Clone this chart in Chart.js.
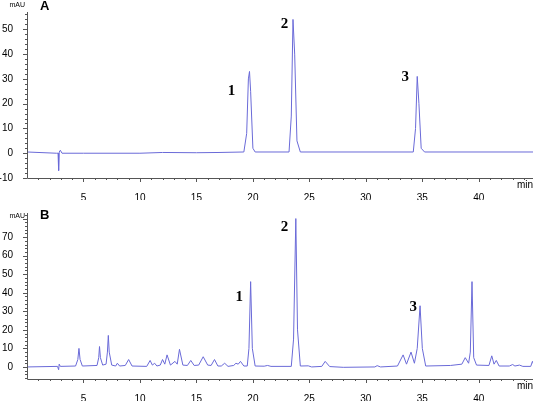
<!DOCTYPE html>
<html>
<head>
<meta charset="utf-8">
<script src="https://cdn.jsdelivr.net/npm/chart.js@4"></script>
<style>
  body { margin: 0; background: #fff; }
  .panel { position: relative; width: 550px; height: 200px; }
  .panel + .panel { height: 201px; }
</style>
</head>
<body>
<div class="panel"><canvas id="chartA"></canvas></div>
<div class="panel"><canvas id="chartB"></canvas></div>
<script>
// Trace A (standards) - retention time (min) / absorbance (mAU)
const timeA = [0, 2.6, 2.75, 2.8, 2.85, 2.95, 3.1, 5, 10, 12, 15, 17, 19.2, 19.45, 19.6, 19.7, 19.8, 20, 20.2,
  23.2, 23.4, 23.55, 23.7, 23.9, 24.2, 34.2, 34.4, 34.55, 34.7, 34.9, 35.2, 44.8];
const valA = [0.5, 0, 0, -7, 0.5, 1.2, 0, 0, 0, 0.3, 0.2, 0.3, 0.5, 8, 30, 33, 25, 2, 0.5,
  0.5, 15, 54, 40, 5, 0.5, 0.5, 10, 31, 20, 2, 0.5, 0.5];

// Trace B (sample)
const timeB = [0, 2.7, 2.8, 2.85, 2.95, 4.3, 4.5, 4.6, 4.7, 4.9, 6.2, 6.35, 6.42, 6.5, 6.7, 7.0, 7.12, 7.2, 7.28, 7.5,
  7.85, 8.0, 8.2, 8.7, 9.0, 9.3, 10.6, 10.9, 11.1, 11.3, 11.5, 11.8, 12.0, 12.2, 12.4, 12.7, 13.1, 13.3, 13.5, 13.8,
  14.2, 14.5, 14.8, 15.2, 15.6, 16, 16.3, 16.6, 16.9, 17.2, 17.5, 17.8, 18.3, 18.5, 18.7, 18.9, 19.2, 19.5, 19.65, 19.8,
  19.95, 20.2, 21.0, 21.3, 21.6, 23.4, 23.6, 23.8, 23.95, 24.2, 24.9, 25.2, 26.1, 26.4, 26.8, 28, 30.8, 31.0, 31.3, 32.8,
  33.3, 33.6, 34.0, 34.3, 34.55, 34.8, 35.0, 35.3, 37.5, 38.5, 38.8, 39.1, 39.25, 39.4, 39.55, 39.8, 40.9, 41.15, 41.35, 41.55,
  41.8, 42.7, 43.0, 43.2, 43.6, 43.9, 44.6, 44.75, 44.85];
const valB = [0, 0.3, -1.5, 1.5, 0.3, 0.5, 4, 10, 4, 0.5, 0.8, 5, 11, 5, 1, 1.5, 8, 17, 8, 1,
  0.5, 2, 0.5, 0.8, 4, 0.5, 0.3, 3.5, 1, 2, 0.5, 1, 4, 1.5, 6.5, 1, 3, 1.5, 9.5, 1,
  0.8, 3.5, 0.8, 1, 5.5, 1, 0.8, 4, 0.5, 0.5, 2, 0.3, 0.8, 2, 1.5, 3, 0.5, 0.5, 10, 46,
  10, 0.5, 0.4, 0.8, 0.3, 0.3, 15, 80, 20, 0.5, 0.6, 0, 0.3, 3, 0.2, -0.2, 0, 0.7, 0, 0.5,
  6.5, 1.5, 8, 2, 10, 33, 10, 0.5, 0.8, 1.5, 5, 2, 8, 46, 5, 1, 0.8, 6, 1.5, 3.5,
  0.5, 0.5, 1.3, 0.5, 1, 0.3, 0.3, 3, 1.5];

// Peak labels
const peakNames = ['1', '2', '3'];
const labelTimeA = [18.1, 22.8, 33.5];
const labelValA = [25, 52, 30.6];
const labelTimeB = [18.8, 22.8, 34.2];
const labelValB = [37.5, 75.5, 32];

// Axis ticks
const timeTicks = [5, 10, 15, 20, 25, 30, 35, 40];
const ticksA = [-10, 0, 10, 20, 30, 40, 50];
const ticksB = [0, 10, 20, 30, 40, 50, 60, 70];

const lineColor = '#6a6ad8';

const decor = {
  id: 'decor',
  afterDraw(chart, args, o) {
    const ctx = chart.ctx, x = chart.scales.x, y = chart.scales.y, a = chart.chartArea;
    ctx.save();
    ctx.strokeStyle = '#555';
    ctx.lineWidth = 1;
    ctx.beginPath();
    ctx.moveTo(a.left + 0.5, a.top); ctx.lineTo(a.left + 0.5, a.bottom + 0.5);
    ctx.lineTo(a.right, a.bottom + 0.5);
    // minor ticks
    for (let t = 1; t < x.max; t++) {
      const px = Math.round(x.getPixelForValue(t)) + 0.5;
      const len = t % 5 === 0 ? 4 : 2;
      ctx.moveTo(px, a.bottom); ctx.lineTo(px, a.bottom + len);
    }
    for (let v = Math.ceil(y.min / 2) * 2; v <= y.max; v += 2) {
      const py = Math.round(y.getPixelForValue(v)) + 0.5;
      const len = v % 10 === 0 ? 4 : 2;
      ctx.moveTo(a.left, py); ctx.lineTo(a.left - len, py);
    }
    ctx.stroke();
    ctx.fillStyle = '#000';
    ctx.font = '7px Arial, "Liberation Sans"';
    ctx.textAlign = 'right'; ctx.textBaseline = 'middle';
    ctx.fillText('mAU', a.left - 2, o.mauY);
    ctx.font = '10px Arial, "Liberation Sans"';
    ctx.textAlign = 'left'; ctx.textBaseline = 'top';
    ctx.fillText('min', a.right - 16, a.bottom + 2);
    ctx.font = 'bold 13px Arial, "Liberation Sans"';
    ctx.fillText(o.letter, 40, o.letterY);
    ctx.font = 'bold 15px "Liberation Serif", "Times New Roman", serif';
    ctx.textAlign = 'center'; ctx.textBaseline = 'middle';
    o.names.forEach((n, i) => {
      ctx.fillText(n, x.getPixelForValue(o.lx[i]), y.getPixelForValue(o.ly[i]));
    });
    ctx.restore();
  }
};

function makeChart(id, times, vals, yMin, yMax, yTicks, padTop, opts) {
  new Chart(document.getElementById(id), {
    type: 'line',
    data: {
      datasets: [{
        data: times.map((t, i) => ({ x: t, y: vals[i] })),
        borderColor: lineColor,
        borderWidth: 1,
        pointRadius: 0,
        tension: 0,
        fill: false
      }]
    },
    options: {
      responsive: true,
      maintainAspectRatio: false,
      animation: false,
      layout: { padding: { top: padTop, right: 17, left: 0, bottom: 0 } },
      plugins: { legend: { display: false }, tooltip: { enabled: false }, decor: opts },
      scales: {
        x: {
          type: 'linear', min: 0, max: 44.8,
          afterBuildTicks: s => { s.ticks = timeTicks.map(v => ({ value: v })); },
          afterFit: s => { s.height = 22; },
          grid: { display: false },
          border: { display: false },
          ticks: { color: '#000', font: { size: 10, family: 'Arial, "Liberation Sans"' }, padding: 6, maxRotation: 0 }
        },
        y: {
          min: yMin, max: yMax,
          afterBuildTicks: s => { s.ticks = yTicks.map(v => ({ value: v })); },
          afterFit: s => { s.width = 27; },
          grid: { display: false },
          border: { display: false },
          ticks: { color: '#000', font: { size: 10, family: 'Arial, "Liberation Sans"' }, padding: 6 }
        }
      }
    },
    plugins: [decor]
  });
}

makeChart('chartA', timeA, valA, -10, 57, ticksA, 5,
  { letter: 'A', letterY: 0, mauY: 5, names: peakNames, lx: labelTimeA, ly: labelValA });
makeChart('chartB', timeB, valB, -6.5, 83, ticksB, 13,
  { letter: 'B', letterY: 9, mauY: 16, names: peakNames, lx: labelTimeB, ly: labelValB });
</script>
</body>
</html>
